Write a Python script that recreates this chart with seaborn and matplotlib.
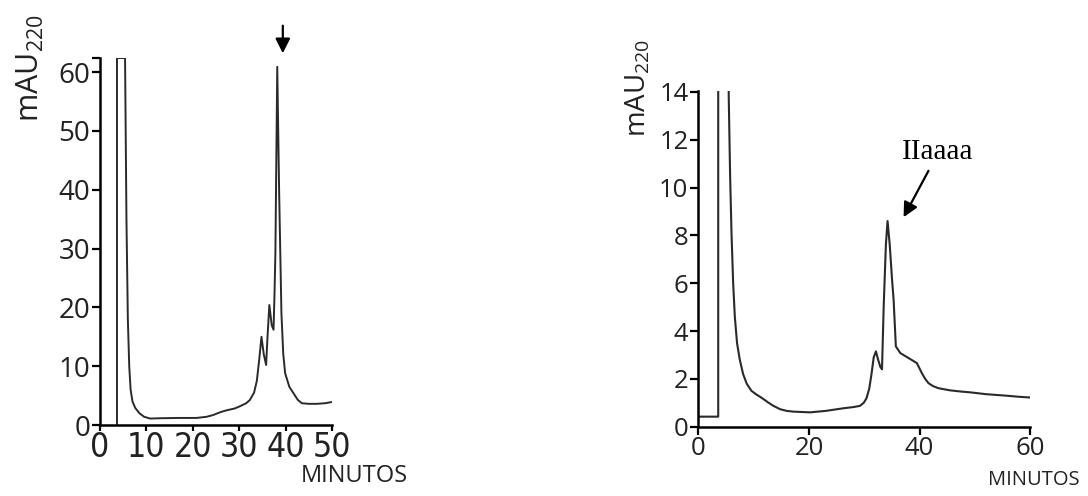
import os
import matplotlib
matplotlib.use("Agg")
import matplotlib.pyplot as plt
import matplotlib.font_manager as fm
import seaborn as sns
import pandas as pd

sns.set_theme(style="white")
plt.rcParams['font.family'] = ['Open Sans', 'DejaVu Sans']
plt.rcParams['mathtext.default'] = 'regular'

# Left chromatogram (minutes, mAU220)
left_t = [3.66, 3.66, 5.4, 5.7, 6.0, 6.3, 6.6, 7.0, 7.6, 8.5, 9.5, 10.8, 13.0, 17.0, 20.8,
          23.0, 24.4, 26.0, 27.3, 29.0, 30.2, 31.5, 32.3, 33.2, 33.8, 34.3, 34.8, 35.3,
          35.8, 36.1, 36.5, 37.0, 37.4, 37.6, 37.8, 38.2, 38.6, 39.1, 39.5, 39.9, 40.8,
          41.7, 42.6, 43.5, 45.0, 46.7, 48.5, 49.9]
left_v = [0.0, 62.4, 62.4, 35.0, 18.0, 10.0, 6.0, 4.0, 2.9, 2.0, 1.4, 1.1, 1.15, 1.2, 1.2,
          1.4, 1.7, 2.2, 2.5, 2.8, 3.2, 3.7, 4.25, 5.5, 7.5, 11.0, 15.0, 12.0,
          10.2, 15.0, 20.4, 17.0, 16.2, 22.0, 29.2, 60.9, 40.0, 19.0, 12.0, 8.8, 6.5,
          5.4, 4.3, 3.7, 3.6, 3.6, 3.7, 3.9]

# Right chromatogram
right_t = [0.0, 3.6, 3.6, 5.45, 5.5, 5.75, 6.0, 6.3, 6.6, 7.0, 7.5, 8.1, 8.75, 9.6, 10.6,
           11.5, 12.4, 13.5, 14.8, 16.0, 17.2, 20.2, 23.0, 26.2, 28.0, 29.2, 29.9, 30.4,
           30.9, 31.3, 31.7, 32.1, 32.5, 32.9, 33.2, 33.5, 33.9, 34.2, 34.6, 35.0, 35.3,
           35.7, 36.5, 38.0, 39.5, 40.4, 41.0, 41.6, 42.4, 43.4, 45.5, 47.5, 49.4, 52.0,
           55.5, 58.0, 60.0]
right_v = [0.42, 0.42, 30.0, 30.0, 13.8, 10.5, 8.1, 6.0, 4.6, 3.5, 2.8, 2.2, 1.8, 1.5, 1.33,
           1.2, 1.05, 0.88, 0.73, 0.66, 0.63, 0.6, 0.66, 0.77, 0.82, 0.87, 1.0, 1.19,
           1.6, 2.2, 2.9, 3.15, 2.8, 2.5, 2.4, 5.0, 7.6, 8.6, 7.6, 6.2, 5.3,
           3.36, 3.08, 2.87, 2.66, 2.24, 2.0, 1.82, 1.7, 1.61, 1.52, 1.47, 1.43, 1.36,
           1.3, 1.25, 1.22]

left_xticks = [0, 10, 20, 30, 40, 50]
left_yticks = [0, 10, 20, 30, 40, 50, 60]
right_xticks = [0, 20, 40, 60]
right_yticks = [0, 2, 4, 6, 8, 10, 12, 14]

ylabel = "mAU$_{220}$"
xunit = "MINUTOS"
peak_label = "IIaaaa"


def narrow_font(size):
    prefs = ["LiberationSansNarrow-Regular", "DejaVuSansCondensed."]
    files = [f.fname for f in fm.fontManager.ttflist]
    for p in prefs:
        for fn in files:
            if os.path.basename(fn).startswith(p):
                scale = 1.0 if "Narrow" in p else 0.93
                return fm.FontProperties(fname=fn, size=size * scale)
    return fm.FontProperties(family="Open Sans", size=size * 0.88)


fig = plt.figure(figsize=(10.88, 4.96), dpi=100)
axL = fig.add_axes([100/1088, 1-425/496, 232/1088, 367/496])
axR = fig.add_axes([698.3/1088, 1-426.7/496, 332/1088, 336/496])

line_color = "#2a2a2a"
dfL = pd.DataFrame({"t": left_t, "v": left_v})
dfR = pd.DataFrame({"t": right_t, "v": right_v})
sns.lineplot(data=dfL, x="t", y="v", ax=axL, sort=False, estimator=None,
             color=line_color, lw=1.4)
sns.lineplot(data=dfR, x="t", y="v", ax=axR, sort=False, estimator=None,
             color=line_color, lw=1.5)

for ax, xt, yt, xl, yl, fs in [(axL, left_xticks, left_yticks, (0, 50), (0, 62.4), 20),
                               (axR, right_xticks, right_yticks, (0, 60), (0, 14.05), 18.5)]:
    ax.set_xlim(*xl)
    ax.set_ylim(*yl)
    ax.set_xticks(xt)
    ax.set_yticks(yt)
    ax.set_xlabel("")
    ax.set_ylabel("")
    for s in ["top", "right"]:
        ax.spines[s].set_visible(False)
    for s in ["left", "bottom"]:
        ax.spines[s].set_color("black")
        ax.spines[s].set_linewidth(1.8)
    ax.tick_params(axis="both", direction="out", length=6, width=1.6, color="black",
                   labelsize=fs, labelcolor="#222222", pad=1, left=True, bottom=True)
    ax.set_facecolor("white")

# left x tick labels are larger and condensed in the reference
axL.tick_params(axis="x", length=4, pad=0)
axL.set_xticklabels([str(t) for t in left_xticks], fontproperties=narrow_font(26),
                    color="#222222")
# small unlabeled stub at the top of the left y axis
axL.set_yticks([62.4], minor=True)
axL.tick_params(axis="y", which="minor", direction="out", length=6, width=1.6,
                color="black", left=True)

# y labels
fig.text(30/1088, 1-68/496, ylabel, rotation=90, ha="center", va="center",
         fontsize=22, color="#222222")
fig.text(638/1088, 1-88/496, ylabel, rotation=90, ha="center", va="center",
         fontsize=20, color="#222222")

# x unit labels
fig.text(354/1088, 1-476/496, xunit, ha="center", va="center", fontsize=17, color="#222222")
fig.text(1034/1088, 1-480/496, xunit, ha="center", va="center", fontsize=14.5, color="#222222")

# arrows / annotations
axL.annotate("", xy=(39.4, 63.2), xytext=(39.4, 67.9), annotation_clip=False,
             arrowprops=dict(arrowstyle="-|>", color="black", lw=1.6, mutation_scale=22,
                             shrinkA=0, shrinkB=0))
axR.annotate("", xy=(37.1, 8.76), xytext=(41.6, 10.7), annotation_clip=False,
             arrowprops=dict(arrowstyle="-|>", color="black", lw=1.6, mutation_scale=22,
                             shrinkA=0, shrinkB=0))
axR.text(43.3, 11.5, peak_label, ha="center", va="center", fontsize=21,
         family=["Liberation Serif", "DejaVu Serif"], color="black")

fig.savefig("out.png", dpi=100, facecolor="white")
